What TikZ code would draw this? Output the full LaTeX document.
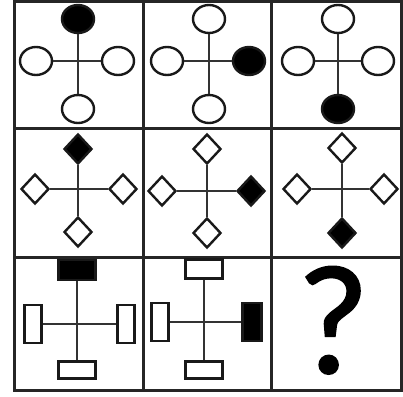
\documentclass[tikz,border=0pt]{standalone}
\usepackage{fontspec}
\setmainfont{Liberation Sans}
\newfontface\qfont[FakeBold=1.2]{Carlito}
\usetikzlibrary{shapes.geometric}
\begin{document}
\begin{tikzpicture}[x=1pt,y=-1pt,
  grid/.style={line width=3pt, draw=black!85},
  arm/.style={line width=2.5pt, draw=black!80},
  shp/.style={draw=black!90, line width=2.4pt, fill=white, inner sep=0pt},
  circ/.style={shp, ellipse, minimum width=32pt, minimum height=28pt},
  dia/.style={shp, diamond, minimum width=28pt, minimum height=30pt},
  hrect/.style={shp, rectangle, minimum width=37pt, minimum height=17pt},
  vrect/.style={shp, rectangle, minimum width=17pt, minimum height=38pt},
  full/.style={fill=black}]
\useasboundingbox (0,0) rectangle (403,396);
% grid
\draw[grid] (14,1.5) rectangle (401,390);
\draw[grid] (143,1.5) -- (143,390);
\draw[grid] (271,1.5) -- (271,390);
\draw[grid] (14,128) -- (401,128);
\draw[grid] (14,257) -- (401,257);
% row 1
\node[circ, full] (a1t) at (78,19) {};
\node[circ] (a1l) at (36,61) {};
\node[circ] (a1r) at (118,61) {};
\node[circ] (a1b) at (78,109) {};
\node[circ] (a2t) at (209,19) {};
\node[circ] (a2l) at (167,61) {};
\node[circ, full] (a2r) at (249,61) {};
\node[circ] (a2b) at (209,109) {};
\node[circ] (a3t) at (338,19) {};
\node[circ] (a3l) at (298,61) {};
\node[circ] (a3r) at (378,61) {};
\node[circ, full] (a3b) at (338,109) {};
% row 2
\node[dia, full] (b1t) at (78,149) {};
\node[dia] (b1l) at (35,189) {};
\node[dia] (b1r) at (123,189) {};
\node[dia] (b1b) at (78,232) {};
\node[dia] (b2t) at (207,149) {};
\node[dia] (b2l) at (162,191) {};
\node[dia, full] (b2r) at (251,191) {};
\node[dia] (b2b) at (207,233) {};
\node[dia] (b3t) at (342,148) {};
\node[dia] (b3l) at (297,189) {};
\node[dia] (b3r) at (384,189) {};
\node[dia, full] (b3b) at (342,233) {};
% row 3
\node[hrect, full, minimum height=20pt] (c1t) at (77,270) {};
\node[vrect] (c1l) at (33,324) {};
\node[vrect] (c1r) at (126,324) {};
\node[hrect] (c1b) at (77,370) {};
\node[hrect, minimum height=19pt] (c2t) at (204,269) {};
\node[vrect] (c2l) at (160,322) {};
\node[vrect, full, minimum width=19pt] (c2r) at (252,322) {};
\node[hrect] (c2b) at (204,370) {};
\node[inner sep=0pt, anchor=base, text height=104pt, text depth=0pt,
      font=\qfont\fontsize{156}{156}\selectfont] (q) at (333,373) {?};
\foreach \c in {a1,a2,a3,b1,b2,b3,c1,c2} {
  \draw[arm] (\c t) -- (\c b);
  \draw[arm] (\c l) -- (\c r);
}
\end{tikzpicture}
\end{document}
